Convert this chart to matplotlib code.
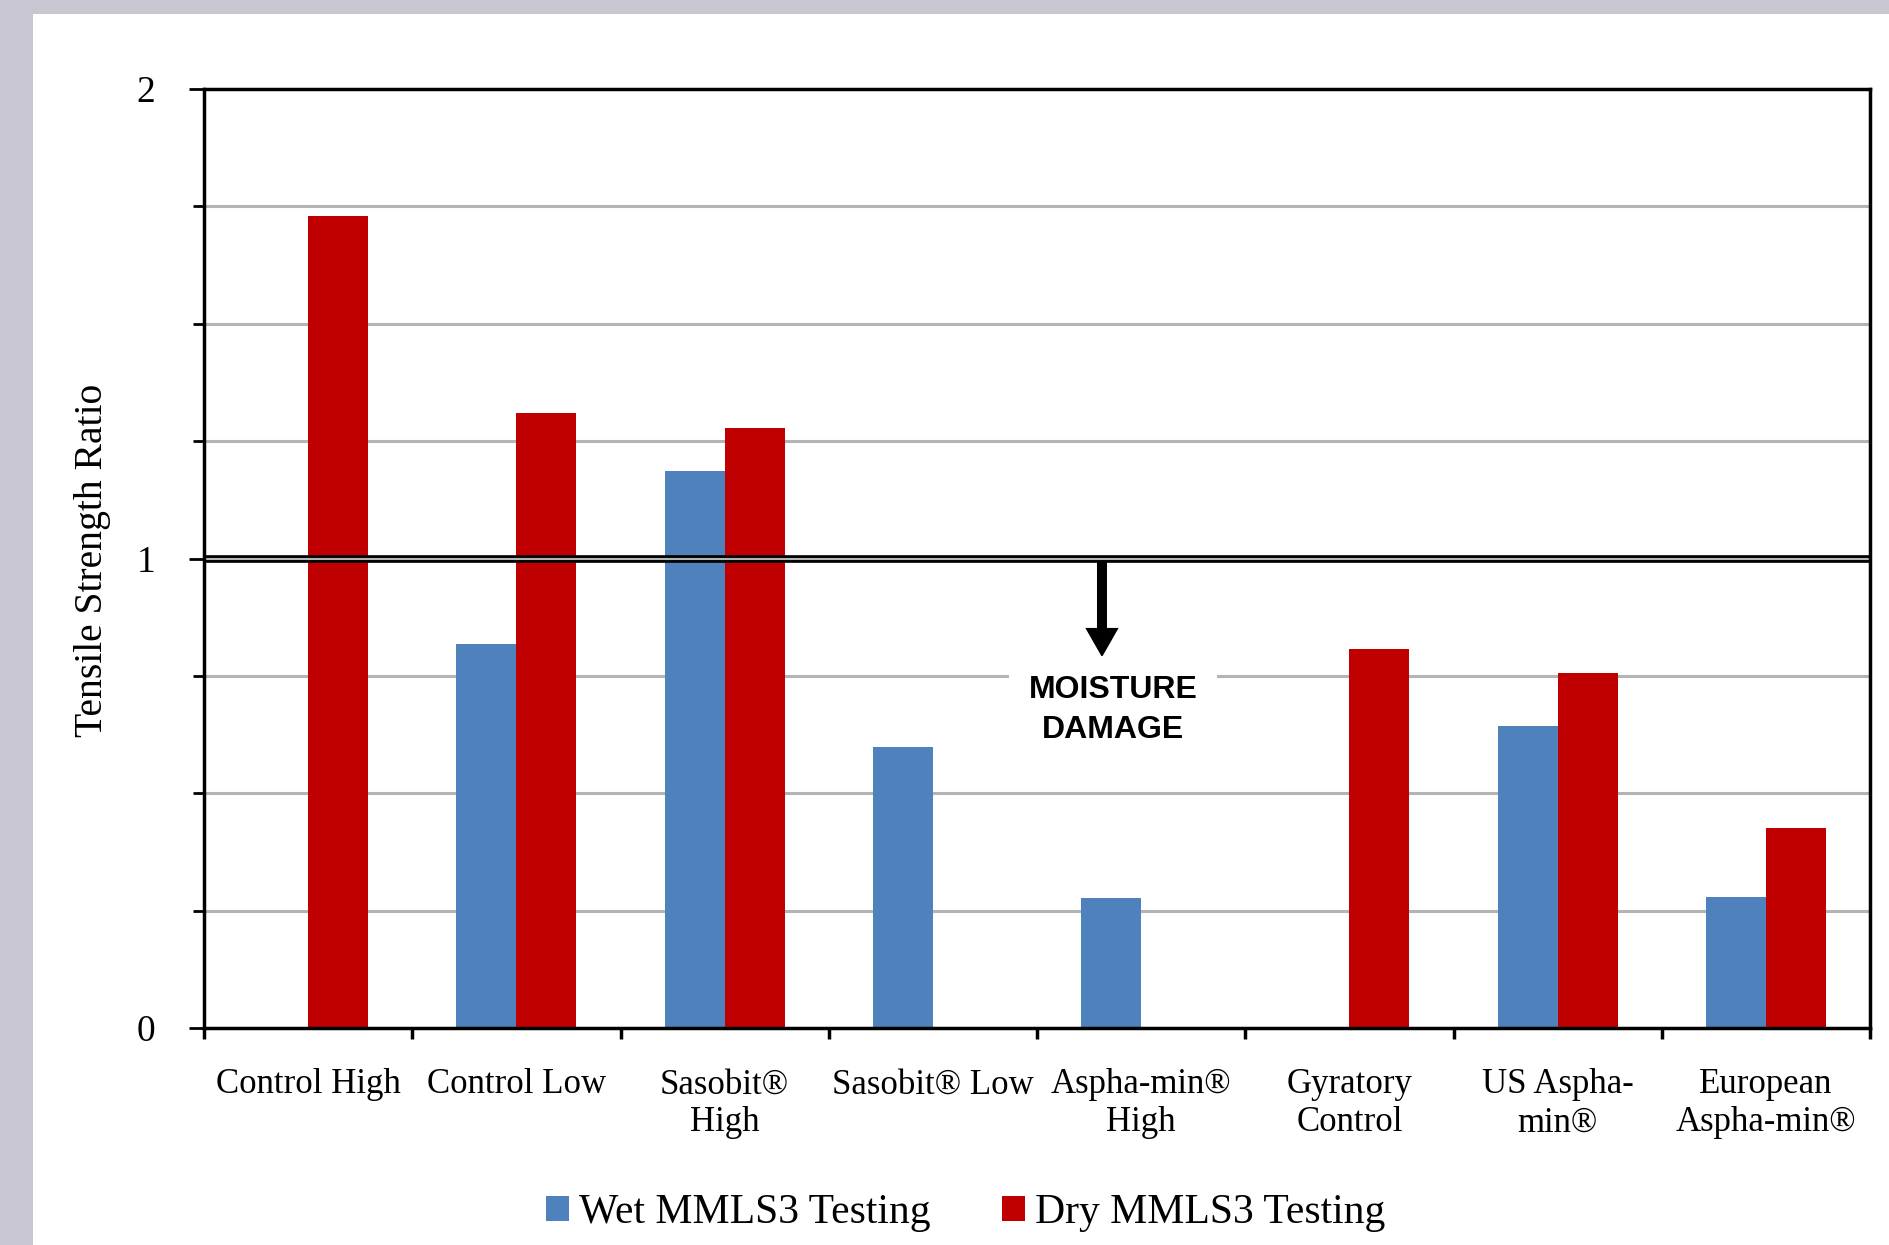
import matplotlib.pyplot as plt
import numpy as np
from matplotlib.patches import Rectangle

categories = ['Control High', 'Control Low', 'Sasobit®\nHigh', 'Sasobit® Low',
              'Aspha-min®\nHigh', 'Gyratory\nControl', 'US Aspha-\nmin®',
              'European\nAspha-min®']
wet = [0, 0.818, 1.187, 0.598, 0.276, 0, 0.643, 0.280]
dry = [1.729, 1.310, 1.278, 0, 0, 0.808, 0.756, 0.427]

blue = '#4F81BD'
red = '#C00000'
grid_gray = '#B4B4B4'
serif = 'Liberation Serif'

fig = plt.figure(figsize=(18.9, 12.45), dpi=100)
fig.patch.set_facecolor('#C8C6D0')
fig.add_artist(Rectangle((0.01746, 0), 1, 0.98876, transform=fig.transFigure,
                         facecolor='white', edgecolor='none', zorder=-1))

ax = fig.add_axes([0.10794, 0.17430, 0.88148, 0.75421])

x = np.arange(len(categories))
w = 0.288
ax.bar(x - w / 2, wet, w, color=blue, label='Wet MMLS3 Testing', zorder=3)
ax.bar(x + w / 2, dry, w, color=red, label='Dry MMLS3 Testing', zorder=3)

ax.set_xlim(-0.5, 7.5)
ax.set_ylim(0, 2)

# gridlines every 0.25
for g in np.arange(0.25, 2.0, 0.25):
    ax.axhline(g, color=grid_gray, lw=2.2, zorder=1)

# TSR = 1 threshold line
ax.axhline(1, color='black', lw=5.5, zorder=5)
ax.axhline(1, color=grid_gray, lw=1.5, zorder=6)

ax.annotate('', xy=(3.812, 0.79), xytext=(3.812, 1.0),
            arrowprops=dict(width=7.2, headwidth=24, headlength=21,
                            facecolor='black', edgecolor='none', shrink=0),
            zorder=4)
ax.text(3.865, 0.677, 'MOISTURE\nDAMAGE', ha='center', va='center',
        fontsize=23, fontweight='bold', family='Liberation Sans',
        linespacing=1.45, zorder=4,
        bbox=dict(boxstyle='square,pad=0.6', facecolor='white', edgecolor='none'))

for s in ax.spines.values():
    s.set_linewidth(2.5)
    s.set_color('black')
    s.set_zorder(7)

ax.set_yticks([0, 1, 2])
ax.set_yticklabels(['0', '1', '2'], fontsize=27, family=serif)
ax.set_yticks(np.arange(0, 2.01, 0.25), minor=True)
ax.tick_params(axis='y', which='major', length=11, width=2, pad=24)
ax.tick_params(axis='y', which='minor', length=8, width=2)

ax.set_xticks(x)
ax.set_xticklabels(categories, fontsize=25, family=serif, linespacing=1.2)
ax.set_xticks(np.arange(-0.5, 8, 1), minor=True)
ax.tick_params(axis='x', which='major', length=0, pad=29)
ax.tick_params(axis='x', which='minor', length=8, width=2.5)

ax.set_ylabel('Tensile Strength Ratio', fontsize=28.5, family=serif)
ax.yaxis.set_label_coords(-0.056, 0.498)

fig.legend(loc='center', bbox_to_anchor=(0.511, 0.026), ncol=2, frameon=False,
           prop={'family': serif, 'size': 30}, handlelength=0.55,
           handleheight=0.55, handletextpad=0.25, columnspacing=1.7)

fig.savefig('out.png', dpi=100, facecolor=fig.get_facecolor())
